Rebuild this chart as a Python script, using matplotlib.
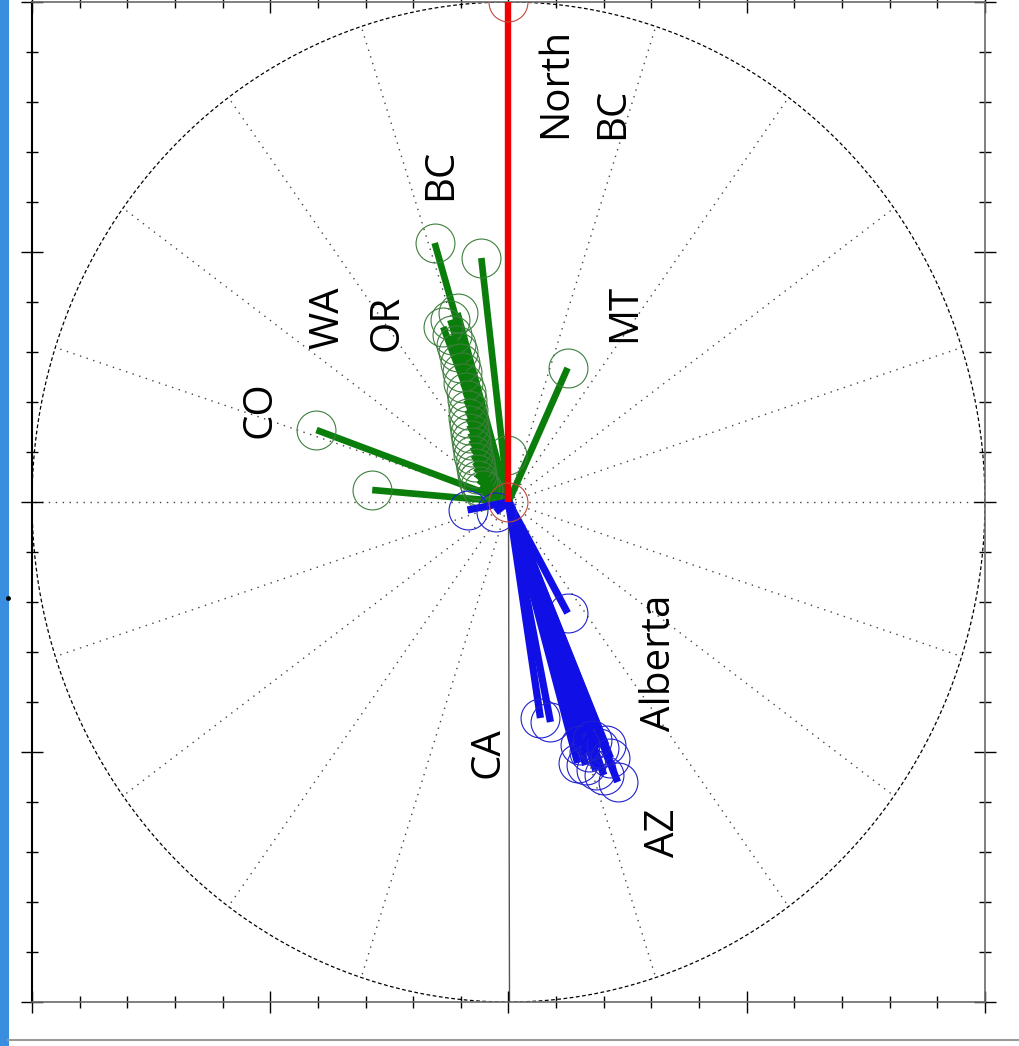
import numpy as np
import matplotlib.pyplot as plt
from matplotlib.lines import Line2D
from matplotlib.patches import Rectangle

# compass vectors: east (u) and north (v) components
green_u = [-0.155, -0.057, 0.124, -0.403, -0.286, -0.004,
           -0.122, -0.107, -0.137, -0.118, -0.111, -0.105, -0.101, -0.097,
           -0.095, -0.090, -0.088, -0.086, -0.084, -0.082, -0.080, -0.078,
           -0.076, -0.074, -0.071, -0.069, -0.067, -0.063, -0.059, -0.053]
green_v = [0.518, 0.488, 0.268, 0.144, 0.024, 0.094,
           0.364, 0.378, 0.350, 0.334, 0.314, 0.300, 0.278, 0.260,
           0.238, 0.220, 0.204, 0.184, 0.168, 0.154, 0.138, 0.124,
           0.110, 0.094, 0.080, 0.068, 0.056, 0.044, 0.032, 0.024]

blue_u = [0.124, 0.067, 0.088, 0.145, 0.162, 0.183, 0.200, 0.229,
          0.168, 0.189, 0.204, 0.214, 0.151, 0.176, -0.086, -0.027]
blue_v = [-0.222, -0.432, -0.440, -0.522, -0.526, -0.536, -0.546, -0.560,
          -0.500, -0.492, -0.486, -0.512, -0.486, -0.476, -0.016, -0.020]

red_u = [0.0, 0.0]
red_v = [1.0, 0.0]

labels = ["North", "BC", "BC", "WA", "OR", "MT", "CO", "CA", "Alberta", "AZ"]
label_x = [0.099, 0.218, -0.141, -0.378, -0.254, 0.244, -0.521, -0.042, 0.317, 0.326]
label_y = [0.838, 0.778, 0.656, 0.368, 0.358, 0.378, 0.184, -0.502, -0.322, -0.662]

spoke_step = 18  # degrees between grid spokes

fig = plt.figure(figsize=(10.2, 10.46), dpi=100)
ax = fig.add_axes([32 / 1020, 44 / 1046, 953 / 1020, 1000 / 1046])

# window decorations around the plot
fig.add_artist(Rectangle((0, 0), 9 / 1020, 1, transform=fig.transFigure,
                         color="#3a8ee0", lw=0))
fig.add_artist(Line2D([8 / 1020, 1], [6 / 1046, 6 / 1046], transform=fig.transFigure,
                      color="#9a9a9a", lw=1.5))
fig.add_artist(Line2D([8 / 1020], [448 / 1046], transform=fig.transFigure,
                      color="black", marker="o", ms=2.5, lw=0))

# grid: spokes and outer ring
for a in np.arange(0, 360, spoke_step):
    t = np.deg2rad(a)
    if a % 180 == 0:
        ax.plot([0, np.sin(t)], [0, np.cos(t)], color="#555555", lw=1.0, zorder=1)
    else:
        ax.plot([0, np.sin(t)], [0, np.cos(t)], color="#444444", lw=1.0,
                ls=(0, (1, 4)), zorder=1)
th = np.linspace(0, 2 * np.pi, 400)
ax.plot(np.cos(th), np.sin(th), color="black", lw=0.9, ls=(0, (3, 2)), zorder=1)


def compass(us, vs, color, edge, lw):
    for u, v in zip(us, vs):
        ax.plot([0, u], [0, v], color=color, lw=lw, solid_capstyle="butt", zorder=3)
        ax.plot([u], [v], marker="o", ms=28, mfc="none", mec=edge, mew=0.8, zorder=3)


compass(green_u, green_v, "#0a7d0a", "#3d7f3d", 4.8)
compass(blue_u, blue_v, "#1010e6", "#2020d0", 5.2)
compass(red_u, red_v, "#f00000", "#c04a3a", 4.6)

for s, x, y in zip(labels, label_x, label_y):
    ax.text(x, y, s, rotation=90, ha="center", va="center", rotation_mode="anchor",
            fontsize=29, family="Open Sans", color="black", zorder=4)

ax.set_xlim(-1, 1)
ax.set_ylim(-1, 1)
ax.set_xticks([-1, -0.5, 0, 0.5, 1])
ax.set_yticks([-1, -0.5, 0, 0.5, 1])
ax.set_xticks(np.arange(-1, 1.01, 0.1), minor=True)
ax.set_yticks(np.arange(-1, 1.01, 0.1), minor=True)
ax.set_xticklabels([])
ax.set_yticklabels([])
ax.tick_params(which="both", direction="inout", top=True, right=True,
               color="black", width=1.0)
ax.tick_params(which="major", length=16)
ax.tick_params(which="minor", length=8)
for side in ["top", "right", "bottom"]:
    ax.spines[side].set_color("#6a6a6a")
    ax.spines[side].set_linewidth(1.2)
ax.spines["left"].set_color("black")
ax.spines["left"].set_linewidth(1.5)

fig.savefig("out.png", dpi=100)
